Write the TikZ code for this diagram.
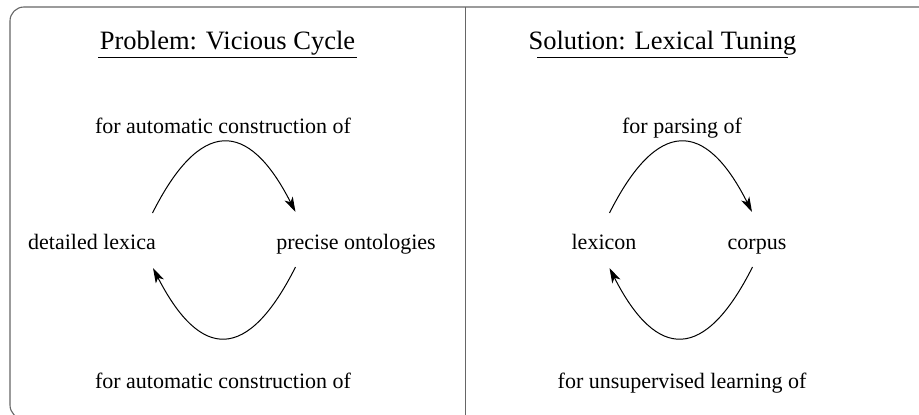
\documentclass[tikz,border=0pt]{standalone}
\usepackage{fontspec}
\setmainfont{Liberation Serif}
\usetikzlibrary{arrows.meta}
\begin{document}
\begin{tikzpicture}[x=1pt,y=-1pt,
  frame/.style={draw=black!60,line width=1.1pt},
  heading/.style={anchor=base,inner sep=0pt,font=\fontsize{26.5}{30}\selectfont},
  label/.style={anchor=base,inner sep=0pt,font=\fontsize{22}{26}\selectfont},
  rule/.style={draw=black,line width=1.2pt},
  cycle/.style={draw=black,line width=1pt,-{Stealth[length=15pt,width=9pt,inset=4pt]}}]
\useasboundingbox (0,0) rectangle (919,415);
\begin{scope}
  \clip (0,0) rectangle (919,415);
  % outer frame (open to the right and bottom) and the divider
  \draw[frame,rounded corners=14pt] (10,7) rectangle (960,419);
  \draw[frame] (465.5,7) -- (465.5,420);
\end{scope}

% ---- left panel: the problem
\node[heading] (ptitle) at (227.5,49) {Problem: Vicious Cycle};
\draw[rule] (98,57.5) -- (357,57.5);
\node[label] (ptop) at (223,133) {for automatic construction of};
\node[label] (lexica) at (92,249) {detailed lexica};
\node[label] (onto) at (356,249) {precise ontologies};
\node[label] (pbot) at (223,388) {for automatic construction of};

\coordinate (lexUp) at (152.5,213);
\coordinate (ontoUp) at (295.5,212);
\coordinate (ontoDn) at (295.5,267);
\coordinate (lexDn) at (153,268);
\draw[cycle] (lexUp) .. controls (200,118.5) and (248,118.5) .. (ontoUp);
\draw[cycle] (ontoDn) .. controls (248,361.5) and (201,361.5) .. (lexDn);

% ---- right panel: the solution
\node[heading] (stitle) at (662.5,49) {Solution: Lexical Tuning};
\draw[rule] (537,57.5) -- (788,57.5);
\node[label] (stop) at (682,133) {for parsing of};
\node[label] (lexicon) at (604,249) {lexicon};
\node[label] (corpus) at (757,249) {corpus};
\node[label] (sbot) at (682,388) {for unsupervised learning of};

\coordinate (lxUp) at (609.5,213);
\coordinate (cpUp) at (752,212);
\coordinate (cpDn) at (752.5,267);
\coordinate (lxDn) at (609.5,268);
\draw[cycle] (lxUp) .. controls (657,118.5) and (705,118.5) .. (cpUp);
\draw[cycle] (cpDn) .. controls (705,361.5) and (657,361.5) .. (lxDn);
\end{tikzpicture}
\end{document}
